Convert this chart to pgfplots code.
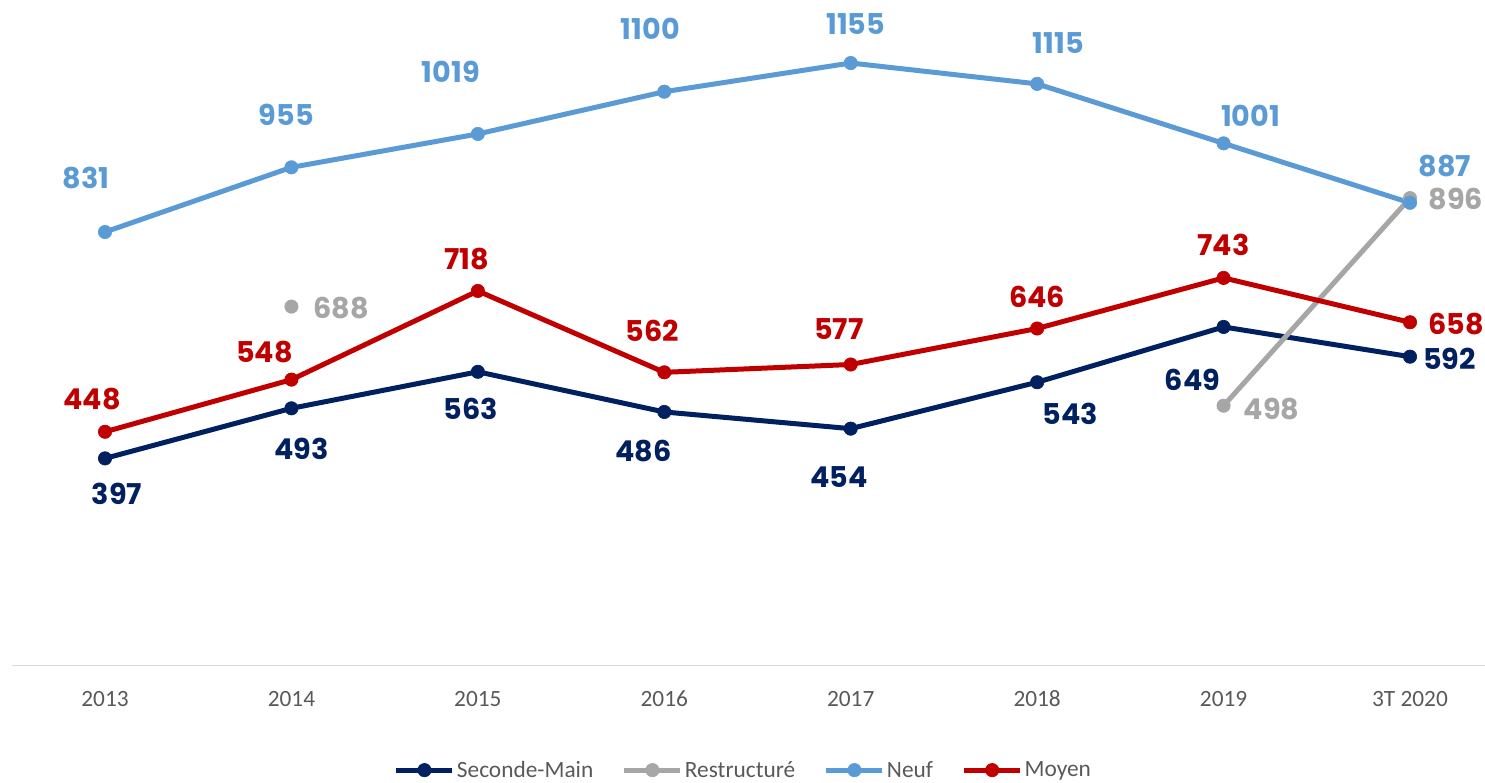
\documentclass[border=0pt]{standalone}
\usepackage{pgfplots}
\usepackage{pgfplotstable}
\pgfplotsset{compat=1.18}
\usepackage{fontspec}
\setmainfont{Carlito}
\newfontfamily\lblfont{Poppins}
\definecolor{cSM}{HTML}{002060}
\definecolor{cR}{HTML}{A6A6A6}
\definecolor{cN}{HTML}{5B9BD5}
\definecolor{cM}{HTML}{C00000}
\definecolor{tickc}{HTML}{595959}
\definecolor{axl}{HTML}{D9D9D9}

\pgfplotstableread{
x y dx dy
0 397 9 -26.25
1 493 7.5 -30.75
2 563 -5.25 -27.75
3 486 -15.75 -29.25
4 454 -9 -36
5 543 24.75 -24
6 649 -23.25 -39.75
7 592 29.5 -1.5
}\seconde

\pgfplotstableread{
x y dx dy
1 688 37.5 -0.75
2 nan 0 0
6 498 36 -2.25
7 896 34.5 -0.75
}\restr

\pgfplotstableread{
x y dx dy
0 831 -14.25 40.5
1 955 -3.75 39
2 1019 -20.25 46.5
3 1100 -10.5 47
4 1155 3.75 29.25
5 1115 15.75 30.75
6 1001 20.25 21
7 887 26.25 27.75
}\neuf

\pgfplotstableread{
x y dx dy
0 448 -9.75 24.75
1 548 -20.25 21
2 718 -8.25 24
3 562 -9 30.75
4 577 -9 26.25
5 646 0 24
6 743 0 24.75
7 658 34.5 -1.5
}\moyen

\begin{document}
\begin{tikzpicture}
\path[use as bounding box] (-8.85pt,-87.4pt) rectangle (1104.9pt,499.1pt);
\begin{axis}[
  x=139.82pt, y=0.3912pt,
  xmin=-0.5, xmax=7.4, ymin=0, ymax=1270,
  clip=false,
  hide y axis,
  axis x line=bottom,
  x axis line style={draw=axl, line width=1.1pt, -},
  xtick={0,...,7},
  xticklabels={2013,2014,2015,2016,2017,2018,2019,3T 2020},
  major tick length=0pt,
  xticklabel style={font=\fontsize{17.5}{20}\selectfont, text=tickc, anchor=base, yshift=-30.5pt},
  unbounded coords=jump,
  every axis plot/.append style={line width=3.75pt, mark=*, mark size=5pt, mark options={line width=0.5pt}},
  point meta=explicit symbolic,
  visualization depends on={\thisrow{dx} \as \dx},
  visualization depends on={\thisrow{dy} \as \dy},
  nodes near coords={\pgfplotspointmeta},
  nodes near coords style={anchor=center, xshift=\dx pt, yshift=\dy pt, font=\lblfont\bfseries\fontsize{21.5}{24}\selectfont, inner sep=0pt},
  legend columns=4,
  legend style={draw=none, fill=none, at={(0.4968,-0.158)}, anchor=center,
    font=\fontsize{17.5}{20}\selectfont, text=tickc,
    /tikz/every even column/.append style={column sep=20pt},
    inner sep=0pt, nodes={inner sep=1.5pt}},
  legend image code/.code={\draw[mark repeat=2,mark phase=2,#1] plot coordinates {(0pt,0pt)(21pt,0pt)(42pt,0pt)};},
]
\addplot[color=cSM, nodes near coords style={text=cSM}] table[x=x,y=y,meta=y] {\seconde};
\addlegendentry{Seconde-Main}
\addplot[color=cR, nodes near coords style={text=cR}] table[x=x,y=y,meta=y] {\restr};
\addlegendentry{Restructuré}
\addplot[color=cN, nodes near coords style={text=cN}] table[x=x,y=y,meta=y] {\neuf};
\addlegendentry{Neuf}
\addplot[color=cM, nodes near coords style={text=cM}] table[x=x,y=y,meta=y] {\moyen};
\addlegendentry{Moyen}
\end{axis}
\end{tikzpicture}
\end{document}
